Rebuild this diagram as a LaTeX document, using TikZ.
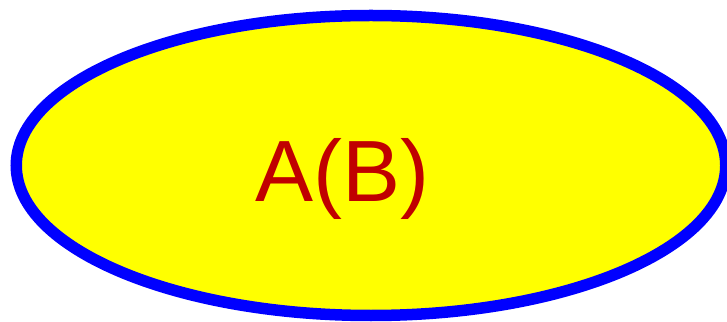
\documentclass[tikz,border=0pt]{standalone}
\usepackage{fontspec}
\setmainfont{Liberation Sans}
\usetikzlibrary{shapes.geometric}
\usetikzlibrary{positioning}
\definecolor{fillyellow}{HTML}{FFFF00}
\definecolor{edgeblue}{HTML}{0000FF}
\definecolor{labelred}{HTML}{C00000}

\begin{document}
\begin{tikzpicture}[x=1pt, y=1pt,
                    blob/.style={ellipse, draw=edgeblue, fill=fillyellow,
                                 line width=11.5pt, inner sep=0pt,
                                 minimum width=709.5pt, minimum height=300pt},
                    tag/.style={text=labelred, inner sep=0pt, anchor=base,
                                font=\fontsize{87}{92}\selectfont}]

  \useasboundingbox (0,0) rectangle (727,321);

  \node[blob] (oval) at (371,155.5) {};
  \node[tag]  (name) at (342,119) {A(B)};

\end{tikzpicture}
\end{document}
